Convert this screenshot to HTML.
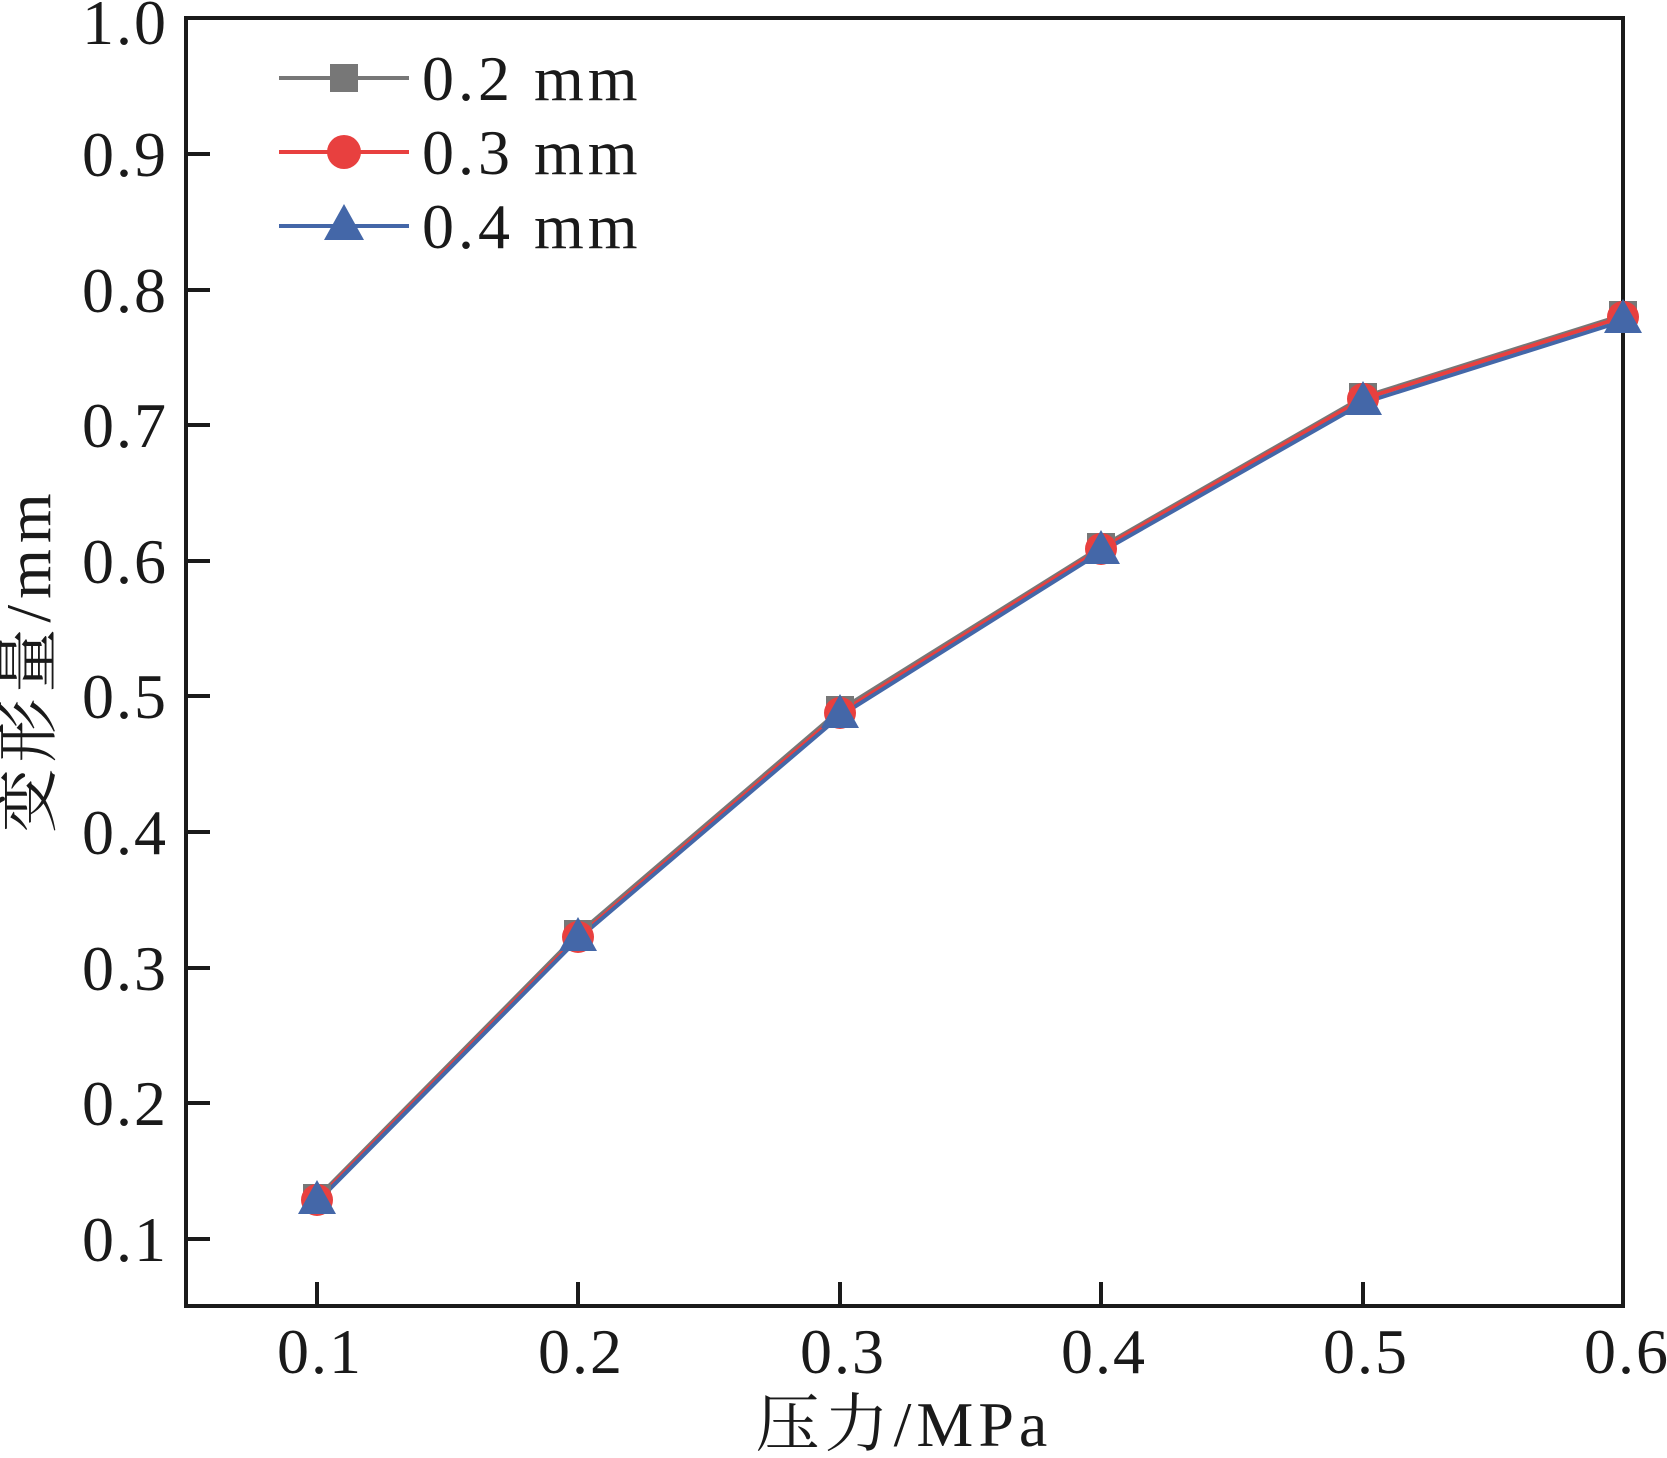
<!DOCTYPE html>
<html><head><style>body{margin:0;background:#fff}</style></head><body>
<svg width="1667" height="1453" xmlns="http://www.w3.org/2000/svg" font-family="Liberation Serif, Noto Serif CJK SC, serif">
<rect width="1667" height="1453" fill="#fff"/>
<g stroke="#1a1a1a" stroke-width="4" fill="none">
<rect x="186" y="18" width="1437" height="1288"/>
<path d="M317 1306v-24M578 1306v-24M840 1306v-24M1101 1306v-24M1363 1306v-24"/>
<path d="M186 154h24M186 290h24M186 425h24M186 561h24M186 696h24M186 832h24M186 968h24M186 1103h24M186 1239h24"/>
</g>
<g font-size="64" fill="#1a1a1a" text-anchor="end" letter-spacing="2">
<text x="168" y="44">1.0</text><text x="168" y="176">0.9</text><text x="168" y="312">0.8</text><text x="168" y="447">0.7</text><text x="168" y="583">0.6</text><text x="168" y="718">0.5</text><text x="168" y="854">0.4</text><text x="168" y="990">0.3</text><text x="168" y="1125">0.2</text><text x="168" y="1261">0.1</text>
</g>
<g font-size="64" fill="#1a1a1a" text-anchor="middle" letter-spacing="2">
<text x="320" y="1373">0.1</text><text x="581" y="1373">0.2</text><text x="843" y="1373">0.3</text><text x="1104" y="1373">0.4</text><text x="1366" y="1373">0.5</text><text x="1627" y="1373">0.6</text>
<text x="904" y="1446" letter-spacing="5">压力/MPa</text>
<text transform="translate(50,660) rotate(-90)" letter-spacing="6">变形量/mm</text>
</g>
<polyline fill="none" stroke="#777" stroke-width="4" points="317,1198 578,934 840,710 1101,547 1363,397 1623,315"/>
<polyline fill="none" stroke="#e8403f" stroke-width="4" points="317,1200 578,937 840,713 1101,549 1363,399 1623,317"/>
<polyline fill="none" stroke="#4467a8" stroke-width="4" points="317,1202 578,939 840,716 1101,552 1363,403 1623,321"/>
<g fill="#777">
<rect x="303" y="1184" width="28" height="28"/><rect x="564" y="920" width="28" height="28"/><rect x="826" y="696" width="28" height="28"/><rect x="1087" y="533" width="28" height="28"/><rect x="1349" y="383" width="28" height="28"/><rect x="1609" y="301" width="28" height="28"/>
</g>
<g fill="#e8403f">
<circle cx="317" cy="1200" r="16"/><circle cx="578" cy="937" r="16"/><circle cx="840" cy="713" r="16"/><circle cx="1101" cy="549" r="16"/><circle cx="1363" cy="399" r="16"/><circle cx="1623" cy="317" r="16"/>
</g>
<g fill="#4467a8">
<path d="M317 1180l19 34h-38z"/><path d="M578 917l19 34h-38z"/><path d="M840 694l19 34h-38z"/><path d="M1101 530l19 34h-38z"/><path d="M1363 381l19 34h-38z"/><path d="M1623 299l19 34h-38z"/>
</g>
<g stroke-width="4">
<line x1="279" y1="78" x2="409" y2="78" stroke="#777"/>
<line x1="279" y1="152" x2="409" y2="152" stroke="#e8403f"/>
<line x1="279" y1="226" x2="409" y2="226" stroke="#4467a8"/>
</g>
<rect x="330" y="64" width="28" height="28" fill="#777"/>
<circle cx="344" cy="152" r="17" fill="#e8403f"/>
<path d="M344 204l20 36h-40z" fill="#4467a8"/>
<g font-size="64" fill="#1a1a1a" letter-spacing="4">
<text x="422" y="100">0.2 mm</text><text x="422" y="174">0.3 mm</text><text x="422" y="248">0.4 mm</text>
</g>
</svg>
</body></html>
